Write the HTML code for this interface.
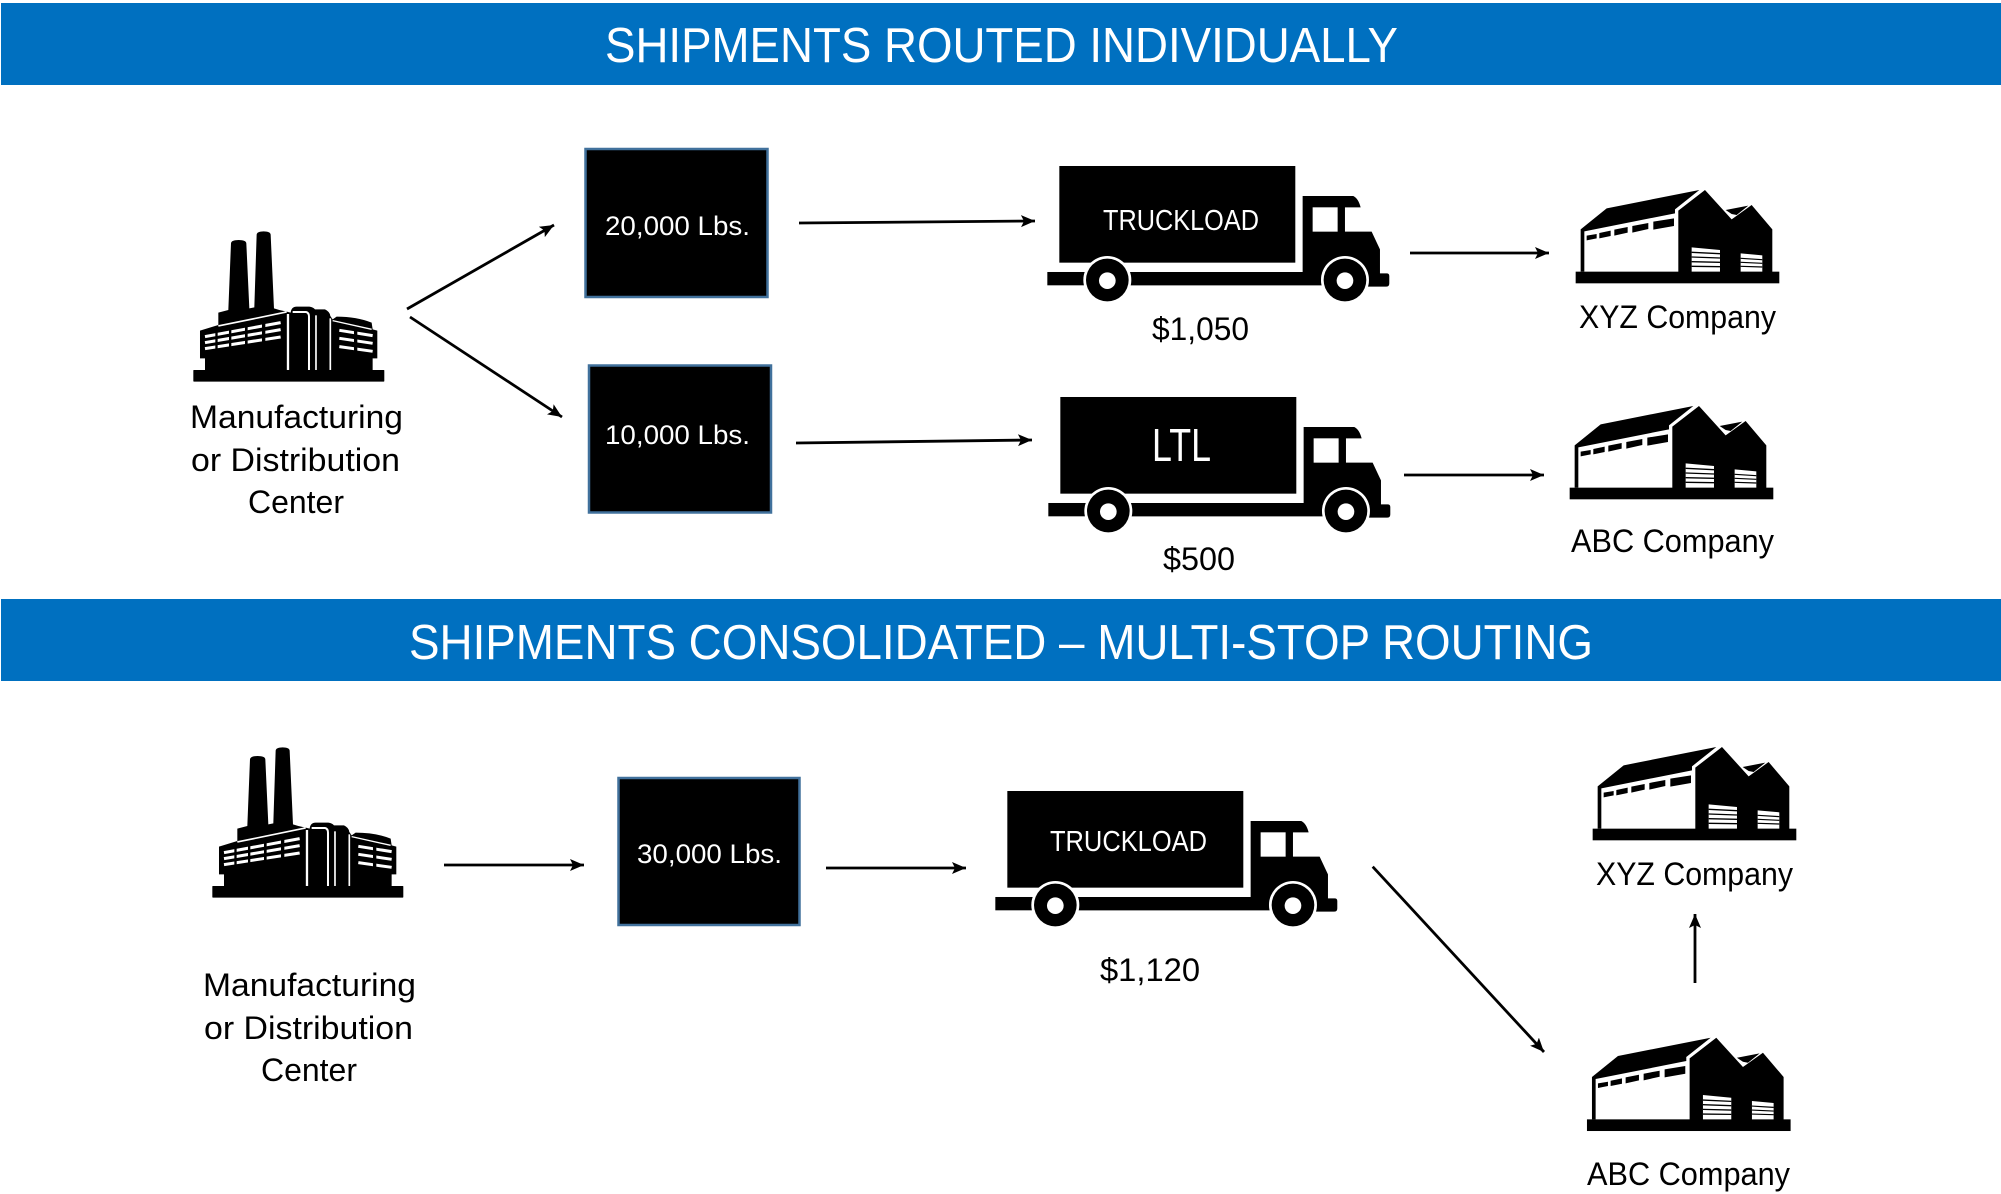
<!DOCTYPE html>
<html><head><meta charset="utf-8"><style>
html,body{margin:0;padding:0;background:#fff}
svg{display:block}
text{font-family:"Liberation Sans",sans-serif;fill:#000}
</style></head><body>
<svg width="2001" height="1194" viewBox="0 0 2001 1194" xmlns="http://www.w3.org/2000/svg">
<defs>
<marker id="a" markerUnits="userSpaceOnUse" markerWidth="16" markerHeight="14" refX="14" refY="7" orient="auto"><path d="M0 1L14 7L0 13L3 7Z" fill="#000"/></marker>
<g id="factory">
<rect x="130" y="510" width="573" height="35" rx="2"/>
<path d="M165 515V475H150V392L205 375V338L235 330L243 130Q244 120 266 120Q288 120 289 130L298 325L313 322L320 104Q321 94 341 94Q361 94 362 104L372 325L388 330L410 335L422 338Q424 320 440 320H478Q490 322 495 328H525Q540 335 541 348L548 358L560 350Q620 350 665 368L668 388L682 392V475H668V515Z"/>
<g fill="none" stroke="#fff" stroke-width="9">
<path d="M205 378L410 336" stroke-width="5"/>
<path d="M165 410L392 368M165 428L392 389M165 446L392 411"/>
<path d="M568 391L668 407M568 415L668 430M568 440L668 454"/>
<path d="M414 342V510" stroke-width="7"/>
<path d="M428 336H468Q477 338 477 350V510" stroke-width="6"/>
<path d="M498 346V510" stroke-width="5"/>
<path d="M541 355V510" stroke-width="5"/>
<path d="M548 362L665 388" stroke-width="4"/>
</g>
<g fill="#000"><rect x="196" y="392" width="7" height="62"/><rect x="237" y="385" width="7" height="62"/><rect x="285" y="376" width="8" height="62"/><rect x="336" y="366" width="10" height="68"/><rect x="612" y="385" width="10" height="72"/></g>
</g>
<g id="truck">
<rect x="88" y="48" width="708" height="290"/>
<rect x="52" y="366" width="200" height="40"/>
<path d="M230 366H818V138H970Q985 145 992 172H945V245H1025L1050 298V370H1070Q1078 370 1078 378V400Q1078 410 1068 410H900L880 406H230Z"/>
<rect x="848" y="172" width="75" height="73" fill="#fff"/>
<circle cx="232" cy="390" r="72" fill="#fff"/><circle cx="232" cy="390" r="64"/><circle cx="232" cy="392" r="25" fill="#fff"/>
<circle cx="945" cy="390" r="72" fill="#fff"/><circle cx="945" cy="390" r="64"/><circle cx="945" cy="392" r="25" fill="#fff"/>
</g>
<g id="wh">
<rect x="107" y="305" width="611" height="35"/>
<path d="M122 178L200 115L478 60L405 118V130L133 184V305H122Z"/>
<path d="M415 122L495 60L575 148L635 105L697 178V310H415Z"/>
<path d="M557 120L625 107L590 135L575 132Z"/>
<g><path d="M140 197L170 192V205L140 211Z"/><path d="M178 189L212 182V198L178 205Z"/><path d="M223 179L263 171V188L223 197Z"/><path d="M277 168L325 159V177L277 188Z"/><path d="M340 155L402 145V168L340 179Z"/></g>
<path d="M455 232L540 240V305H455Z" fill="#fff"/>
<g stroke="#000" stroke-width="4"><path d="M455 247L540 251M455 261L540 264M455 275L540 277M455 289L540 290"/></g>
<path d="M602 250L667 256V305H602Z" fill="#fff"/>
<g stroke="#000" stroke-width="3.5"><path d="M602 265L667 269M602 277L667 280M602 289L667 291"/></g>
</g>
</defs>
<rect x="1" y="3" width="2000" height="82" fill="#0070c0"/>
<rect x="1" y="599" width="2000" height="82" fill="#0070c0"/>
<text style="fill:#fff" x="605" y="62" font-size="49" textLength="793" lengthAdjust="spacingAndGlyphs">SHIPMENTS ROUTED INDIVIDUALLY</text>
<text style="fill:#fff" x="409" y="659" font-size="49" textLength="1184" lengthAdjust="spacingAndGlyphs">SHIPMENTS CONSOLIDATED – MULTI-STOP ROUTING</text>

<use href="#factory" transform="translate(150 200) scale(.3333)"/>
<use href="#factory" transform="translate(169 716) scale(.3333)"/>
<use href="#truck" transform="translate(1030 150) scale(.3333)"/>
<use href="#truck" transform="translate(1031 381) scale(.3333)"/>
<use href="#truck" transform="translate(978 775) scale(.3333)"/>
<use href="#wh" transform="translate(1540 170) scale(.3333)"/>
<use href="#wh" transform="translate(1534 386) scale(.3333)"/>
<use href="#wh" transform="translate(1557 727) scale(.3333)"/>
<use href="#wh" transform="translate(1551.3 1017.7) scale(.3333)"/>

<g fill="#000" stroke="#41719c" stroke-width="2.5">
<rect x="585.5" y="149" width="182" height="148"/>
<rect x="589" y="365.5" width="182" height="147"/>
<rect x="618.5" y="778" width="181" height="147"/>
</g>

<g stroke="#000" stroke-width="2.8" fill="none">
<line x1="407" y1="309" x2="554" y2="225" marker-end="url(#a)"/>
<line x1="410" y1="317" x2="562" y2="417" marker-end="url(#a)"/>
<line x1="799" y1="223" x2="1035" y2="221" marker-end="url(#a)"/>
<line x1="1410" y1="253" x2="1549" y2="253" marker-end="url(#a)"/>
<line x1="796" y1="443" x2="1032" y2="440" marker-end="url(#a)"/>
<line x1="1404" y1="475" x2="1544" y2="475" marker-end="url(#a)"/>
<line x1="444" y1="865" x2="584" y2="865" marker-end="url(#a)"/>
<line x1="826" y1="868" x2="966" y2="868" marker-end="url(#a)"/>
<line x1="1372.7" y1="866.7" x2="1544" y2="1052" marker-end="url(#a)"/>
<line x1="1695" y1="983" x2="1695" y2="914" marker-end="url(#a)"/>
</g>

<g font-size="32.5">
<text x="190" y="428" textLength="213" lengthAdjust="spacingAndGlyphs">Manufacturing</text>
<text x="191" y="471" textLength="209" lengthAdjust="spacingAndGlyphs">or Distribution</text>
<text x="248" y="513" textLength="96" lengthAdjust="spacingAndGlyphs">Center</text>
<text x="203" y="996" textLength="213" lengthAdjust="spacingAndGlyphs">Manufacturing</text>
<text x="204" y="1039" textLength="209" lengthAdjust="spacingAndGlyphs">or Distribution</text>
<text x="261" y="1081" textLength="96" lengthAdjust="spacingAndGlyphs">Center</text>
<text x="1152" y="340" textLength="97" lengthAdjust="spacingAndGlyphs">$1,050</text>
<text x="1163" y="570" textLength="72" lengthAdjust="spacingAndGlyphs">$500</text>
<text x="1100" y="981" textLength="100" lengthAdjust="spacingAndGlyphs">$1,120</text>
<text x="1579" y="328" textLength="197" lengthAdjust="spacingAndGlyphs">XYZ Company</text>
<text x="1571" y="552" textLength="203" lengthAdjust="spacingAndGlyphs">ABC Company</text>
<text x="1596" y="885" textLength="197" lengthAdjust="spacingAndGlyphs">XYZ Company</text>
<text x="1587" y="1185" textLength="203" lengthAdjust="spacingAndGlyphs">ABC Company</text>
</g>
<g font-size="27">
<text style="fill:#fff" x="605" y="235" textLength="145" lengthAdjust="spacingAndGlyphs">20,000 Lbs.</text>
<text style="fill:#fff" x="605" y="444" textLength="145" lengthAdjust="spacingAndGlyphs">10,000 Lbs.</text>
<text style="fill:#fff" x="637" y="863" textLength="145" lengthAdjust="spacingAndGlyphs">30,000 Lbs.</text>
<text style="fill:#fff" x="1103" y="230" font-size="29" textLength="156" lengthAdjust="spacingAndGlyphs">TRUCKLOAD</text>
<text style="fill:#fff" x="1050" y="851" font-size="29" textLength="157" lengthAdjust="spacingAndGlyphs">TRUCKLOAD</text>
<text style="fill:#fff" x="1152" y="461" font-size="46" textLength="59" lengthAdjust="spacingAndGlyphs">LTL</text>
</g>
</svg>
</body></html>
